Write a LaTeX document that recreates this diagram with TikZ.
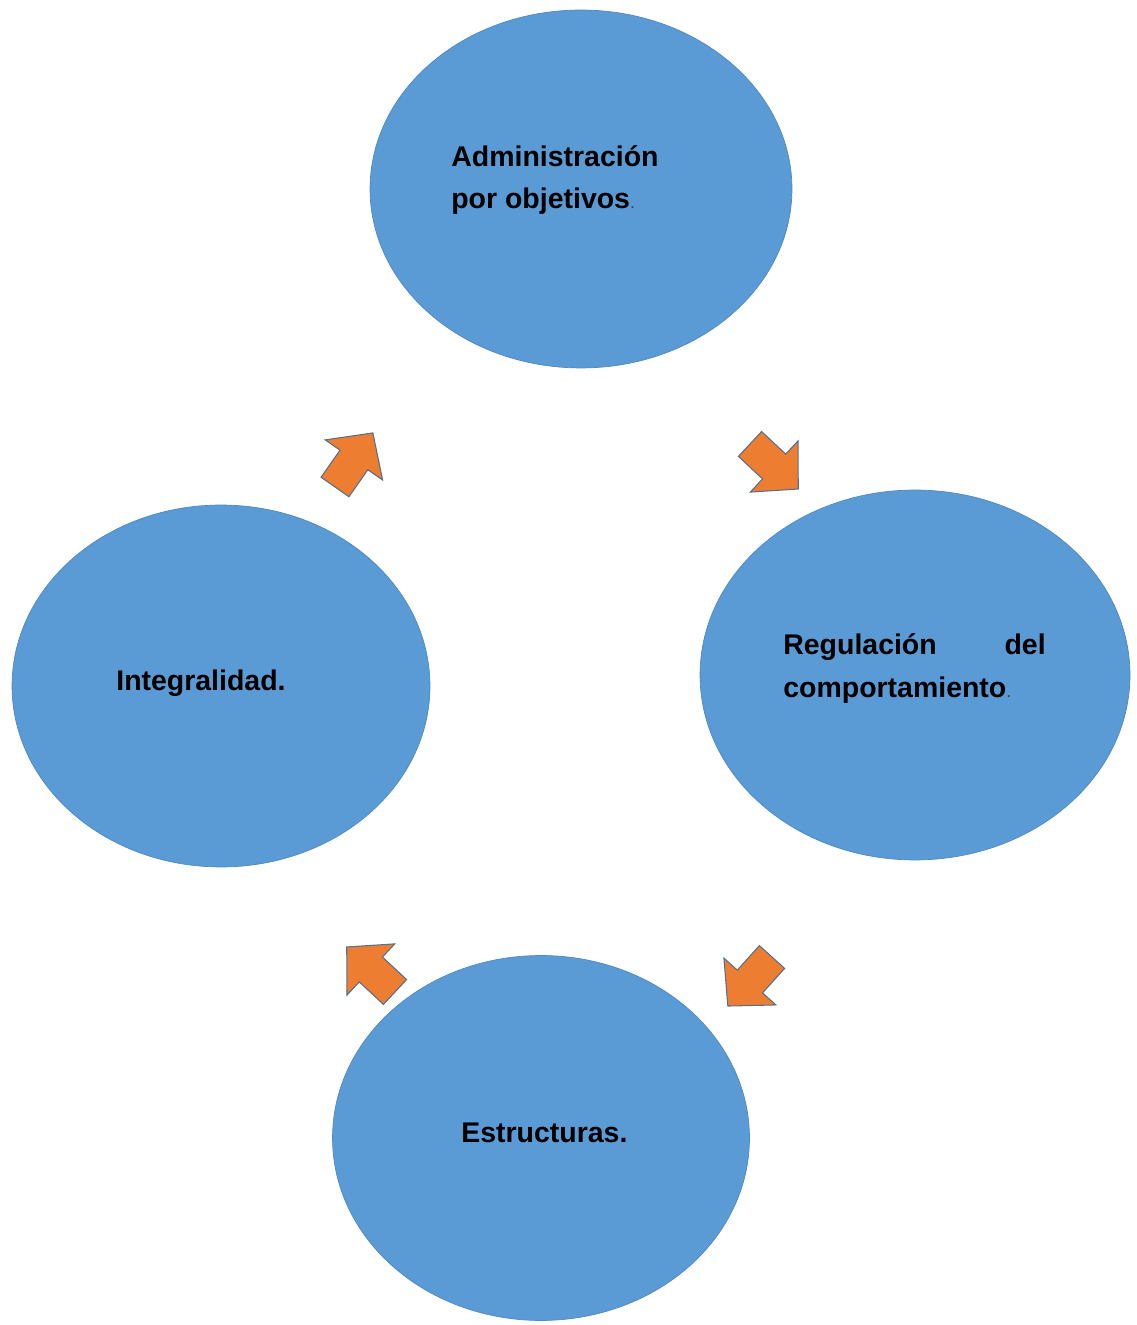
\documentclass[tikz,border=0pt]{standalone}
\usepackage{fontspec}
\setmainfont{Liberation Sans}
\usetikzlibrary{shapes.geometric}
\definecolor{burbuja}{HTML}{5B9BD5}
\definecolor{borde}{HTML}{4F89C2}
\definecolor{naranja}{HTML}{ED7D31}
\definecolor{contorno}{HTML}{55708F}
\newcommand\puntito{{\mdseries\fontsize{10}{10}\selectfont\color{darkgray}.}}
\tikzset{
globo/.style={ellipse, fill=burbuja, draw=borde, line width=0.4pt, inner sep=0pt},
rotulo/.style={anchor=base west, font=\bfseries\fontsize{16.2}{20}\selectfont, inner sep=0pt},
flecha/.pic={
  \draw[fill=naranja, draw=contorno, line width=0.6pt, line join=miter] (0,-17) -- (33,-17) -- (33,-35) -- (66,0) -- (33,35) -- (33,17) -- (0,17) -- cycle;
  }
}
\begin{document}
\begin{tikzpicture}[x=0.02cm, y=0.02cm]
\useasboundingbox (0,0) rectangle (1136,1325);
\node[globo, minimum width=8.44cm, minimum height=7.16cm] (adm) at (581,1136) {};
\node[globo, minimum width=8.6cm, minimum height=7.4cm] (reg) at (915,650) {};
\node[globo, minimum width=8.36cm, minimum height=7.24cm] (int) at (221,639) {};
\node[globo, minimum width=8.34cm, minimum height=7.3cm] (est) at (541,187) {};

\node[rotulo] (adm1) at (451,1158) {Administración};
\node[rotulo] (adm2) at (451,1116) {por objetivos\puntito};
\node[rotulo] (reg1) at (783,670) {Regulación};
\node[rotulo, anchor=base east] (reg2) at (1046,670) {del};
\node[rotulo] (reg3) at (783,627) {comportamiento\puntito};
\node[rotulo] (int1) at (116,634) {Integralidad.};
\node[rotulo] (est1) at (461,182) {Estructuras.};

\pic[rotate=55] at (335,838) {flecha};
\pic[rotate=-43] at (750,881) {flecha};
\pic[rotate=-132] at (772,368) {flecha};
\pic[rotate=137] at (395,333) {flecha};
\end{tikzpicture}
\end{document}
